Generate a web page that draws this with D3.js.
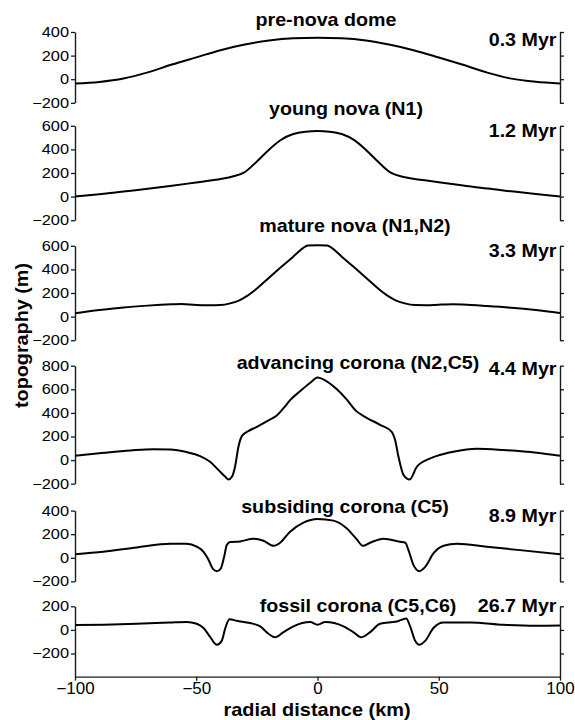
<!DOCTYPE html>
<html>
<head>
<meta charset="utf-8">
<script src="https://cdn.jsdelivr.net/npm/d3@7"></script>
<style>
  html, body { margin: 0; padding: 0; background: #fff; }
  svg { display: block; font-family: "Liberation Sans", Arial, sans-serif; }
</style>
</head>
<body>
<svg id="chart" width="575" height="720"></svg>
<script>
// Topographic profiles across a nova / corona through time
const titles = ["pre-nova dome", "young nova (N1)", "mature nova (N1,N2)",
                "advancing corona (N2,C5)", "subsiding corona (C5)", "fossil corona (C5,C6)"];
const ages = ["0.3 Myr", "1.2 Myr", "3.3 Myr", "4.4 Myr", "8.9 Myr", "26.7 Myr"];

const xTicks = [-100, -50, 0, 50, 100];
const ticks1 = [-200, 0, 200, 400];
const ticks2 = [-200, 0, 200, 400, 600];
const ticks3 = [-200, 0, 200, 400, 600];
const ticks4 = [-200, 0, 200, 400, 600, 800];
const ticks5 = [-200, 0, 200, 400];
const ticks6 = [-200, 0, 200];

// radial distance (km) and topography (m) for each stage
const domeKm = [-100, -90, -80, -70, -60, -50, -40, -30, -20, -10, 0, 10, 20, 30, 40, 50, 60, 70, 80, 90, 100];
const domeM  = [-37, -23, 6, 58, 124, 185, 246, 294, 328, 347, 352, 347, 328, 292, 244, 184, 122, 56, 5, -22, -37];

const youngKm = [-100, -90, -80, -70, -60, -50, -45, -40, -35, -30, -25, -20, -15, -10, -5, 0,
                 5, 10, 15, 20, 25, 30, 35, 40, 45, 50, 60, 70, 80, 90, 100];
const youngM  = [0, 20, 43, 66, 92, 120, 134, 150, 170, 208, 298, 398, 482, 530, 550, 556,
                 550, 530, 480, 395, 295, 205, 168, 150, 136, 122, 95, 68, 45, 22, 0];

const matureKm = [-100, -90, -80, -70, -60, -56, -50, -45, -40, -36, -32, -29, -25, -20, -15, -10, -6, -4, 0,
                  4, 6, 10, 15, 20, 25, 29, 32, 36, 40, 45, 50, 56, 60, 70, 80, 90, 100];
const matureM  = [28, 55, 78, 93, 104, 107, 98, 96, 98, 112, 140, 175, 238, 330, 420, 508, 580, 603, 605,
                  603, 580, 508, 420, 330, 238, 175, 140, 112, 98, 97, 101, 104, 102, 90, 75, 55, 30];

const advKm = [-100, -88, -77, -67.7, -60.8, -54, -48.4, -44.3, -40.8, -38, -36.7, -35.3, -34, -32.6, -31.2, -29, -25,
               -19.5, -16.8, -14, -11.3, -7.1, -3, 0, 3.8, 8, 12, 16, 19, 26, 30.6, 32, 33.4, 35.5, 38, 41,
               46.5, 49, 56, 65.7, 76.7, 90.4, 100];
const advM  = [37, 62, 82, 93, 90, 68, 34, -14, -85, -141, -164, -141, -56, 113, 203, 240, 282,
               345, 378, 440, 508, 585, 655, 700, 668, 600, 515, 415, 373, 297, 240, 170, 28, -127, -164, -56,
               14, 34, 71, 96, 85, 62, 37];

const subKm = [-100, -88.3, -74.5, -60.8, -54, -49.8, -47, -45, -43.2, -41.5, -39.9, -38.5, -37.4, -36, -31.9, -26.4,
               -22.3, -18.1, -15.4, -11.3, -5.8, 0, 6.6, 12, 16.2, 18.7, 21.7, 27.2, 34, 36.2, 37.5, 39.6, 42,
               44.4, 47.8, 52, 57.5, 69.8, 83.5, 100];
const subM  = [31, 51, 88, 119, 119, 94, 51, -14, -91, -113, -91, 9, 108, 133, 139, 162,
               145, 102, 128, 221, 298, 329, 315, 250, 156, 102, 128, 162, 136, 128, 65, -62, -113,
               -77, 37, 102, 119, 94, 65, 31];

const fossilKm = [-100, -88, -74.6, -60.8, -54, -49.8, -47, -44.5, -41.5, -39.5, -38, -36.3, -33.3, -27.8, -23.6,
                  -20.2, -17.5, -14, -9.9, -3, 0, 3.2, 10.7, 14.8, 18, 21.7, 25.8, 32.7, 36.6, 38.2, 40.3, 42,
                  44.4, 47.8, 52, 63, 76.7, 90, 100];
const fossilM  = [41, 44, 52, 63, 68, 52, 16, -52, -126, -93, 16, 90, 77, 58, 30,
                  -33, -63, -19, 30, 66, 44, 66, 30, -19, -63, -19, 52, 71, 96, 30, -93, -126,
                  -93, 16, 63, 63, 44, 36, 38];

// panel layout: top pixel of each y axis and its value domain
const pxPerMetre = 0.118;
const panels = [
  { km: domeKm,   m: domeM,   domain: [-200, 400], ticks: ticks1, top: 32.0,  titleX: 326, titleY: 26,    ageY: 46 },
  { km: youngKm,  m: youngM,  domain: [-200, 600], ticks: ticks2, top: 125.8, titleX: 346, titleY: 115,   ageY: 137 },
  { km: matureKm, m: matureM, domain: [-200, 600], ticks: ticks3, top: 245.8, titleX: 355, titleY: 232,   ageY: 257 },
  { km: advKm,    m: advM,    domain: [-200, 800], ticks: ticks4, top: 365.7, titleX: 358, titleY: 368.5, ageY: 375 },
  { km: subKm,    m: subM,    domain: [-200, 400], ticks: ticks5, top: 510.6, titleX: 345, titleY: 512.5, ageY: 521.5 },
  { km: fossilKm, m: fossilM, domain: [-396, 200], ticks: ticks6, top: 606.3, titleX: 358, titleY: 612,   ageY: 612 }
];

const svg = d3.select("#chart");
const left = 75, right = 560;
const x = d3.scaleLinear().domain([-100, 100]).range([left, right]);

const boldSize = 17.5, boldStretch = 1.125;

function styleAxis(g) {
  g.selectAll("path.domain").attr("stroke", "#1a1a1a").attr("stroke-width", 1.4);
  g.selectAll(".tick line").attr("stroke", "#1a1a1a").attr("stroke-width", 1.3);
}

panels.forEach((p, i) => {
  const bottom = p.top + (p.domain[1] - p.domain[0]) * pxPerMetre;
  const y = d3.scaleLinear().domain(p.domain).range([bottom, p.top]);

  // left axis with labels
  const gl = svg.append("g").attr("transform", `translate(${left},0)`)
    .call(d3.axisLeft(y).tickValues(p.ticks).tickSize(4).tickSizeOuter(0).tickPadding(2));
  gl.selectAll(".tick text")
    .attr("font-size", 14).attr("fill", "#000")
    .attr("transform", function () {
      const tx = +this.getAttribute("x");
      this.setAttribute("x", 0);
      return `translate(${tx},0) scale(1.17,1)`;
    });
  styleAxis(gl);

  // right bracket axis, ticks only
  const gr = svg.append("g").attr("transform", `translate(${right},0)`)
    .call(d3.axisRight(y).tickValues(p.ticks).tickSize(4).tickSizeOuter(0).tickFormat(""));
  styleAxis(gr);

  // profile line
  const line = d3.line()
    .x((d, j) => x(p.km[j]))
    .y(d => y(d))
    .curve(d3.curveMonotoneX);
  svg.append("path")
    .datum(p.m)
    .attr("d", line)
    .attr("fill", "none")
    .attr("stroke", "#000")
    .attr("stroke-width", 2)
    .attr("stroke-linejoin", "round");

  // stage title
  svg.append("text")
    .attr("transform", `translate(${p.titleX},${p.titleY}) scale(${boldStretch},1)`)
    .attr("text-anchor", "middle")
    .attr("font-size", boldSize).attr("font-weight", "bold")
    .text(titles[i]);

  // age label
  svg.append("text")
    .attr("transform", `translate(556.5,${p.ageY}) scale(${boldStretch},1)`)
    .attr("text-anchor", "end")
    .attr("font-size", boldSize).attr("font-weight", "bold")
    .text(ages[i]);

  // x axis on the lowest panel
  if (i === panels.length - 1) {
    const gb = svg.append("g").attr("transform", `translate(0,${bottom})`)
      .call(d3.axisBottom(x).tickValues(xTicks).tickSize(4).tickSizeOuter(0).tickPadding(2));
    gb.selectAll(".tick text").attr("font-size", 16).attr("fill", "#000")
      .attr("transform", "scale(1.06,1)");
    styleAxis(gb);
  }
});

// axis titles
svg.append("text")
  .attr("transform", "translate(317,715.5) scale(1.14,1)")
  .attr("text-anchor", "middle")
  .attr("font-size", 17.5).attr("font-weight", "bold")
  .text("radial distance (km)");

svg.append("text")
  .attr("transform", "translate(27.5,335.5) rotate(-90) scale(1.1,1)")
  .attr("text-anchor", "middle")
  .attr("font-size", 18).attr("font-weight", "bold")
  .text("topography (m)");
</script>
</body>
</html>
